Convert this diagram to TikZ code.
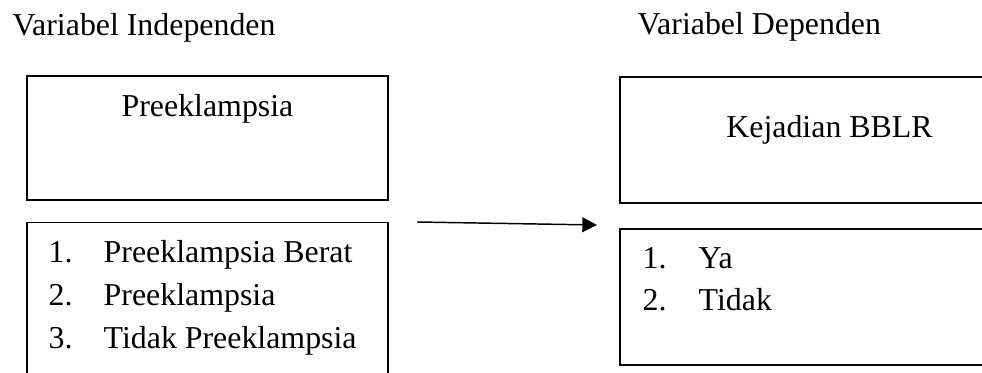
\documentclass[tikz,border=0pt]{standalone}
\usepackage{fontspec}
\setmainfont{Liberation Serif}
\usetikzlibrary{arrows.meta}

\tikzset{every picture/.style={line width=1.1pt}}
\tikzset{txt/.style={anchor=base west,inner sep=0pt,font=\fontsize{23.9}{32}\selectfont}}

\begin{document}
\begin{tikzpicture}[x=0.75pt,y=0.75pt,yscale=-1,xscale=1]
%set diagram size to 982 x 373
\path [use as bounding box,clip] (0,0) rectangle (982,373);

%Shape: Rectangle [id:indepHead]
\draw   (27,76) rectangle (388,200) ;
%Shape: Rectangle [id:indepList]
\draw   (27,222.7) rectangle (388,390) ;
%Shape: Rectangle [id:depHead]
\draw   (620,77) rectangle (1000,203) ;
%Shape: Rectangle [id:depList]
\draw   (620,229) rectangle (1000,365) ;

% Arrow
\coordinate (arrFrom) at (417,222) ;
\coordinate (arrTo) at (597,225) ;
\draw [-{Triangle[length=11pt,width=11pt]}]   (arrFrom) -- (arrTo) ;

% Text Node
\node [txt] (indepTitle) at (12,36) {Variabel Independen};
% Text Node
\node [txt] (depTitle) at (637,35) {Variabel Dependen};
% Text Node
\node [txt,anchor=base] (indepName) at (207.5,117) {Preeklampsia};
% Text Node
\node [txt,anchor=base] (depName) at (829.5,138) {Kejadian BBLR};
% Text Node
\node [txt] (numA) at (48,262.7) {1.};
\node [txt] (itemA) at (103,262.7) {Preeklampsia Berat};
% Text Node
\node [txt] (numB) at (48,306) {2.};
\node [txt] (itemB) at (103,306) {Preeklampsia};
% Text Node
\node [txt] (numC) at (48,348.5) {3.};
\node [txt] (itemC) at (103,348.5) {Tidak Preeklampsia};
% Text Node
\node [txt] (numYa) at (642,269) {1.};
\node [txt] (itemYa) at (698,269) {Ya};
% Text Node
\node [txt] (numTidak) at (642,311) {2.};
\node [txt] (itemTidak) at (698,311) {Tidak};

\end{tikzpicture}
\end{document}
